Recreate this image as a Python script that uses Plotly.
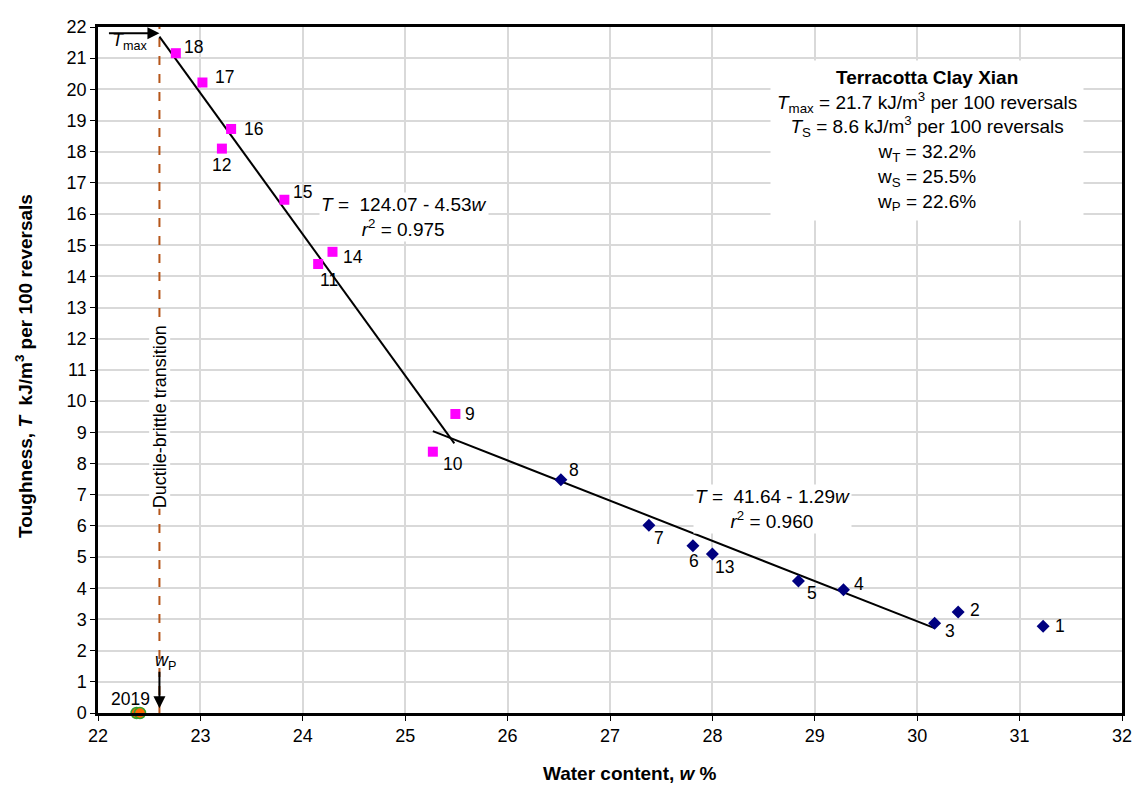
import plotly.graph_objects as go

# ---- data ----
pink_labels = ["18", "17", "16", "12", "15", "14", "11", "9", "10"]
pink_w = [22.76, 23.02, 23.30, 23.21, 23.82, 24.29, 24.15, 25.49, 25.27]
pink_T = [21.16, 20.22, 18.73, 18.10, 16.46, 14.79, 14.40, 9.59, 8.38]

blue_labels = ["8", "7", "6", "13", "5", "4", "3", "2", "1"]
blue_w = [26.52, 27.38, 27.81, 28.00, 28.84, 29.28, 30.17, 30.40, 31.23]
blue_T = [7.48, 6.02, 5.36, 5.10, 4.23, 3.95, 2.88, 3.24, 2.78]

pt2019_w = [22.377, 22.41]
pt2019_T = [0.0, 0.0]

# regression lines: T = a - b*w over range
fit1_a, fit1_b, fit1_range = 124.07, 4.53, [22.6, 25.48]
fit2_a, fit2_b, fit2_range = 41.64, 1.29, [25.27, 30.17]

w_P = 22.6
T_max = 21.7

x_ticks = list(range(22, 33))
y_ticks = list(range(0, 23))

# label placement style (pixel offsets from marker: xshift, yshift, anchor)
pink_lbl_style = [(6, 6, "left"), (11, 6, "left"), (11, 0, "left"), (0, -16, "center"),
                  (7, 8, "left"), (8, -5, "left"), (0, -16, "left"), (8, 0, "left"),
                  (8, -12, "left")]
blue_lbl_style = [(6, 10, "left"), (3, -13, "left"), (-6, -15, "left"), (1, -13, "left"),
                  (7, -12, "left"), (9, 6, "left"), (8, -8, "left"), (10, 2, "left"),
                  (10, 0, "left")]

FONT = "Liberation Sans, Arial, sans-serif"

fig = go.Figure()

# vertical ductile-brittle transition line
fig.add_trace(go.Scatter(x=[w_P, w_P], y=[0, 22], mode="lines",
                         line=dict(color="#B5561A", width=2, dash="dash"),
                         hoverinfo="skip", showlegend=False))

# fit lines
fig.add_trace(go.Scatter(x=fit1_range, y=[fit1_a - fit1_b * w for w in fit1_range],
                         mode="lines", line=dict(color="black", width=2),
                         showlegend=False))
fig.add_trace(go.Scatter(x=fit2_range, y=[fit2_a - fit2_b * w for w in fit2_range],
                         mode="lines", line=dict(color="black", width=2),
                         showlegend=False))

fig.add_trace(go.Scatter(x=pink_w, y=pink_T, mode="markers",
                         marker=dict(symbol="square", size=10, color="#FF00FF"),
                         showlegend=False))
fig.add_trace(go.Scatter(x=blue_w, y=blue_T, mode="markers",
                         marker=dict(symbol="diamond", size=10, color="#000080"),
                         showlegend=False))
fig.add_trace(go.Scatter(x=pt2019_w, y=pt2019_T, mode="markers",
                         marker=dict(symbol="circle", size=11, color="#FF6600",
                                     line=dict(color="#33A02C", width=1.5)),
                         cliponaxis=False, showlegend=False))

ann = []
for xs, ys, labs, sty in [(pink_w, pink_T, pink_labels, pink_lbl_style),
                          (blue_w, blue_T, blue_labels, blue_lbl_style)]:
    for x, y, t, (dx, dy, anc) in zip(xs, ys, labs, sty):
        ann.append(dict(x=x, y=y, text=t, showarrow=False, xanchor=anc, yanchor="middle",
                        xshift=dx + (0 if anc == "center" else 0), yshift=dy,
                        font=dict(size=17.5, family=FONT, color="black")))

# vertical label
ann.append(dict(x=w_P, y=9.5, text="Ductile-brittle transition", textangle=-90,
                showarrow=False, bgcolor="white", borderpad=0,
                font=dict(size=18, family=FONT, color="black")))
# Tmax arrow
ann.append(dict(x=w_P, y=21.8, ax=-52, ay=0, xref="x", yref="y", text="",
                showarrow=True, arrowhead=2, arrowsize=1.2, arrowwidth=2, arrowcolor="black"))
ann.append(dict(x=22.31, y=21.55, text="<i>T</i><sub>max</sub>", showarrow=False,
                font=dict(size=18, family=FONT, color="black")))
# wP arrow
ann.append(dict(x=w_P, y=0.15, ax=0, ay=-38, text="", showarrow=True, arrowhead=2,
                arrowsize=1.2, arrowwidth=2, arrowcolor="black"))
ann.append(dict(x=22.66, y=1.65, text="<i>w</i><sub>P</sub>", showarrow=False,
                font=dict(size=18, family=FONT, color="black")))
ann.append(dict(x=22.32, y=0.45, text="2019", showarrow=False,
                font=dict(size=17.5, family=FONT, color="black")))
# equations
ann.append(dict(x=24.99, y=15.92, text="<i>T</i> =  124.07 - 4.53<i>w</i><br><i>r</i><sup>2</sup> = 0.975",
                showarrow=False, bgcolor="white", align="center",
                font=dict(size=19, family=FONT, color="black")))
ann.append(dict(x=28.59, y=6.55, text="<i>T</i> =  41.64 - 1.29<i>w</i><br><i>r</i><sup>2</sup> = 0.960",
                showarrow=False, bgcolor="white", align="center",
                font=dict(size=19, family=FONT, color="black")))
# info box
ann.append(dict(x=30.1, y=18.35,
                text="<b>Terracotta Clay Xian</b><br>"
                     "<i>T</i><sub>max</sub> = 21.7 kJ/m<sup>3</sup> per 100 reversals<br>"
                     "<i>T</i><sub>S</sub> = 8.6 kJ/m<sup>3</sup> per 100 reversals<br>"
                     "w<sub>T</sub> = 32.2%<br>w<sub>S</sub> = 25.5%<br>w<sub>P</sub> = 22.6%",
                showarrow=False, bgcolor="white", align="center", borderpad=6,
                font=dict(size=19, family=FONT, color="black")))
# axis titles
ann.append(dict(xref="paper", yref="paper", x=0.5195, y=-0.0876, xanchor="center",
                yanchor="middle", showarrow=False,
                text="<b>Water content, <i>w</i> %</b>",
                font=dict(size=19, family=FONT, color="black")))
ann.append(dict(xref="paper", yref="paper", x=-0.0723, y=0.5057, xanchor="center",
                yanchor="middle", showarrow=False, textangle=-90,
                text="<b>Toughness, <i>T</i>  kJ/m<sup>3</sup> per 100 reversals</b>",
                font=dict(size=19, family=FONT, color="black")))

fig.update_layout(
    width=1139, height=779,
    margin=dict(l=90, r=25, t=9, b=74),
    paper_bgcolor="white", plot_bgcolor="white",
    font=dict(family=FONT, size=18, color="black"),
    annotations=ann,
    xaxis=dict(range=[22, 32], tickvals=x_ticks, showgrid=True, gridcolor="#D9D9D9",
               gridwidth=1.5, showline=True, linecolor="black", linewidth=2.5, mirror=True,
               ticks="outside", ticklen=5, tickcolor="black", zeroline=False,
               tickfont=dict(size=18)),
    yaxis=dict(range=[0, 22], tickvals=y_ticks, showgrid=True, gridcolor="#D9D9D9",
               gridwidth=1.5, showline=True, linecolor="black", linewidth=2.5, mirror=True,
               ticks="outside", ticklen=5, tickcolor="black", zeroline=False,
               tickfont=dict(size=18)),
)

fig.write_html("out.html")
